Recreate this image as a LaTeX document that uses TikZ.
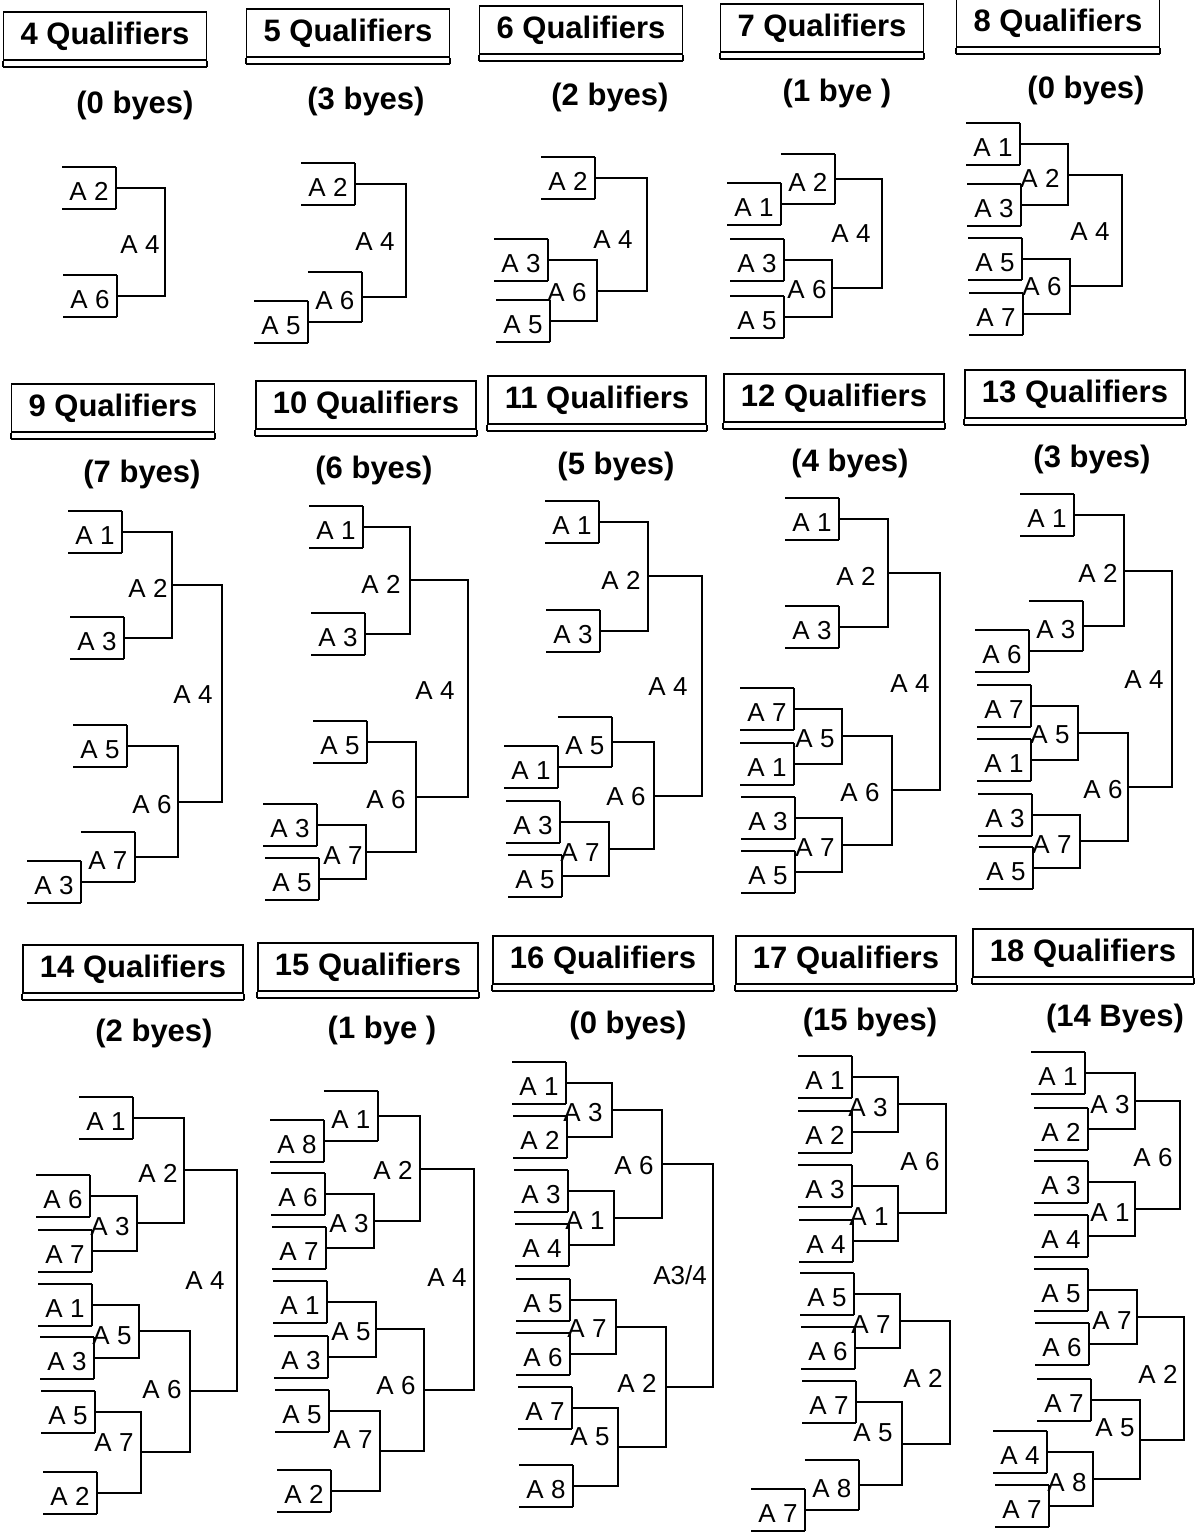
\documentclass[tikz,border=0pt]{standalone}
\usepackage{fontspec}
\setmainfont{Liberation Sans}
\usetikzlibrary{positioning,calc}
\newcommand{\lblfont}{\fontsize{26}{30}\selectfont}
\newcommand{\hdfont}{\fontsize{31}{35}\selectfont\bfseries}
\tikzset{
  slot/.style={minimum width=52pt,minimum height=40pt,inner sep=0pt,text height=25pt,text depth=0pt,font=\lblfont,
    append after command={(\tikzlastnode.north west) edge (\tikzlastnode.north east)
      (\tikzlastnode.north east) edge (\tikzlastnode.south east)
      (\tikzlastnode.south east) edge (\tikzlastnode.south west)}},
  byeslot/.style={slot,minimum height=48pt,anchor=south west},
  mlabel/.style={font=\lblfont,inner sep=0pt},
  qtitle/.style={draw,inner xsep=17pt,minimum height=48pt,font=\hdfont,
    append after command={(\tikzlastnode.south west) edge ([yshift=-6pt]\tikzlastnode.south west)
      ([yshift=-6pt]\tikzlastnode.south west) edge ([yshift=-6pt]\tikzlastnode.south east)
      ([yshift=-6pt]\tikzlastnode.south east) edge (\tikzlastnode.south east)}},
  byecount/.style={font=\hdfont,inner sep=0pt}
}
\begin{document}
\begin{tikzpicture}[x=1pt,y=-1pt,line width=1.8pt]
\useasboundingbox (0,0) rectangle (1200,1540);

% 4 Qualifiers
\node[qtitle] (q4t) at (105,36) {4 Qualifiers};
\node[byecount] (q4b) at (135,105) {(0 byes)};
\node[slot] (q4a2) at (89,188) {A 2};
\node[slot] (q4a6) at (90,296) {A 6};
\coordinate (q4m4) at (165,242);
\draw (q4a2.east) -| (q4m4) |- (q4a6.east);
\node[mlabel] (q4l4) at (140,245) {A 4};

% 5 Qualifiers
\node[qtitle] (q5t) at (348,33) {5 Qualifiers};
\node[byecount] (q5b) at (366,101) {(3 byes)};
\node[slot] (q5a2) at (328,184) {A 2};
\node[slot] (q5a5) at (281,322) {A 5};
\node[byeslot] (q5a6) at (q5a5.east) {A 6};
\coordinate (q5m4) at (406,241);
\draw (q5a2.east) -| (q5m4) |- (q5a6.east);
\node[mlabel] (q5l4) at (375,242) {A 4};

% 6 Qualifiers
\node[qtitle] (q6t) at (581,30) {6 Qualifiers};
\node[byecount] (q6b) at (610,97) {(2 byes)};
\node[slot] (q6a2) at (568,178) {A 2};
\node[slot] (q6a3) at (521,260) {A 3};
\node[slot] (q6a5) at (523,321) {A 5};
\coordinate (q6m6) at (597,291);
\coordinate (q6m4) at (647,234);
\draw (q6a3.east) -| (q6m6) |- (q6a5.east);
\draw (q6a2.east) -| (q6m4) |- (q6m6);
\node[mlabel] (q6l6) at (567,293) {A 6};
\node[mlabel] (q6l4) at (613,240) {A 4};

% 7 Qualifiers
\node[qtitle] (q7t) at (822,28) {7 Qualifiers};
\node[byecount] (q7b) at (837,93) {(1 bye )};
\node[slot] (q7a1) at (754,204) {A 1};
\node[byeslot] (q7a2) at (q7a1.east) {A 2};
\node[slot] (q7a3) at (757,260) {A 3};
\node[slot] (q7a5) at (757,317) {A 5};
\coordinate (q7m6) at (832,288);
\coordinate (q7m4) at (882,234);
\draw (q7a3.east) -| (q7m6) |- (q7a5.east);
\draw (q7a2.east) -| (q7m4) |- (q7m6);
\node[mlabel] (q7l6) at (807,290) {A 6};
\node[mlabel] (q7l4) at (851,234) {A 4};

% 8 Qualifiers
\node[qtitle] (q8t) at (1058,23) {8 Qualifiers};
\node[byecount] (q8b) at (1086,90) {(0 byes)};
\node[slot] (q8a1) at (993,144) {A 1};
\node[slot] (q8a3) at (994,205) {A 3};
\node[slot] (q8a5) at (995,259) {A 5};
\node[slot] (q8a7) at (996,314) {A 7};
\coordinate (q8m2) at (1068,175);
\coordinate (q8m6) at (1070,286);
\coordinate (q8m4) at (1122,231);
\draw (q8a1.east) -| (q8m2) |- (q8a3.east);
\draw (q8a5.east) -| (q8m6) |- (q8a7.east);
\draw (q8m2) -| (q8m4) |- (q8m6);
\node[mlabel] (q8l2) at (1040,178) {A 2};
\node[mlabel] (q8l6) at (1042,287) {A 6};
\node[mlabel] (q8l4) at (1090,232) {A 4};

% 9 Qualifiers
\node[qtitle] (q9t) at (113,408) {9 Qualifiers};
\node[byecount] (q9b) at (142,474) {(7 byes)};
\node[slot] (q9a1) at (95,532) {A 1};
\node[slot] (q9a3) at (97,638) {A 3};
\node[slot] (q9a5) at (100,746) {A 5};
\node[slot] (q9a3b) at (54,882) {A 3};
\node[byeslot] (q9a7) at (q9a3b.east) {A 7};
\coordinate (q9m2) at (172,585);
\coordinate (q9m6) at (178,802);
\coordinate (q9m4) at (222,693);
\draw (q9a1.east) -| (q9m2) |- (q9a3.east);
\draw (q9a5.east) -| (q9m6) |- (q9a7.east);
\draw (q9m2) -| (q9m4) |- (q9m6);
\node[mlabel] (q9l2) at (148,588) {A 2};
\node[mlabel] (q9l6) at (152,805) {A 6};
\node[mlabel] (q9l4) at (193,695) {A 4};

% 10 Qualifiers
\node[qtitle] (q10t) at (366,405) {10 Qualifiers};
\node[byecount] (q10b) at (374,470) {(6 byes)};
\node[slot] (q10a1) at (336,527) {A 1};
\node[slot] (q10a3) at (338,634) {A 3};
\node[slot] (q10a5) at (340,742) {A 5};
\node[slot] (q10a3b) at (290,825) {A 3};
\node[slot] (q10a5b) at (292,879) {A 5};
\coordinate (q10m7) at (366,852);
\coordinate (q10m2) at (410,580);
\coordinate (q10m6) at (416,797);
\coordinate (q10m4) at (468,688);
\draw (q10a3b.east) -| (q10m7) |- (q10a5b.east);
\draw (q10a1.east) -| (q10m2) |- (q10a3.east);
\draw (q10a5.east) -| (q10m6) |- (q10m7);
\draw (q10m2) -| (q10m4) |- (q10m6);
\node[mlabel] (q10l7) at (343,856) {A 7};
\node[mlabel] (q10l2) at (381,584) {A 2};
\node[mlabel] (q10l6) at (386,800) {A 6};
\node[mlabel] (q10l4) at (435,691) {A 4};

% 11 Qualifiers
\node[qtitle] (q11t) at (597,400) {11 Qualifiers};
\node[byecount] (q11b) at (616,466) {(5 byes)};
\node[slot] (q11a1) at (572,522) {A 1};
\node[slot] (q11a3) at (573,631) {A 3};
\node[slot] (q11a1b) at (531,767) {A 1};
\node[byeslot] (q11a5) at (q11a1b.east) {A 5};
\node[slot] (q11a3b) at (533,822) {A 3};
\node[slot] (q11a5b) at (535,876) {A 5};
\coordinate (q11m7) at (609,849);
\coordinate (q11m2) at (648,576);
\coordinate (q11m6) at (654,796);
\coordinate (q11m4) at (702,686);
\draw (q11a3b.east) -| (q11m7) |- (q11a5b.east);
\draw (q11a1.east) -| (q11m2) |- (q11a3.east);
\draw (q11a5.east) -| (q11m6) |- (q11m7);
\draw (q11m2) -| (q11m4) |- (q11m6);
\node[mlabel] (q11l7) at (580,853) {A 7};
\node[mlabel] (q11l2) at (621,580) {A 2};
\node[mlabel] (q11l6) at (626,797) {A 6};
\node[mlabel] (q11l4) at (668,687) {A 4};

% 12 Qualifiers
\node[qtitle] (q12t) at (834,398) {12 Qualifiers};
\node[byecount] (q12b) at (850,463) {(4 byes)};
\node[slot] (q12a1) at (812,519) {A 1};
\node[slot] (q12a3) at (812,627) {A 3};
\node[slot] (q12a7) at (767,709) {A 7};
\node[slot] (q12a1b) at (767,764) {A 1};
\node[slot] (q12a3b) at (768,818) {A 3};
\node[slot] (q12a5b) at (768,872) {A 5};
\coordinate (q12m5) at (842,736);
\coordinate (q12m7) at (842,845);
\coordinate (q12m2) at (888,573);
\coordinate (q12m6) at (892,790);
\coordinate (q12m4) at (940,681);
\draw (q12a7.east) -| (q12m5) |- (q12a1b.east);
\draw (q12a3b.east) -| (q12m7) |- (q12a5b.east);
\draw (q12a1.east) -| (q12m2) |- (q12a3.east);
\draw (q12m5) -| (q12m6) |- (q12m7);
\draw (q12m2) -| (q12m4) |- (q12m6);
\node[mlabel] (q12l5) at (815,739) {A 5};
\node[mlabel] (q12l7) at (815,848) {A 7};
\node[mlabel] (q12l2) at (856,576) {A 2};
\node[mlabel] (q12l6) at (860,793) {A 6};
\node[mlabel] (q12l4) at (910,684) {A 4};

% 13 Qualifiers
\node[qtitle] (q13t) at (1075,394) {13 Qualifiers};
\node[byecount] (q13b) at (1092,459) {(3 byes)};
\node[slot] (q13a1) at (1047,515) {A 1};
\node[slot] (q13a6b) at (1002,651) {A 6};
\node[byeslot] (q13a3) at (q13a6b.east) {A 3};
\node[slot] (q13a7) at (1004,706) {A 7};
\node[slot] (q13a1b) at (1004,760) {A 1};
\node[slot] (q13a3b) at (1005,815) {A 3};
\node[slot] (q13a5b) at (1006,868) {A 5};
\coordinate (q13m2) at (1124,571);
\coordinate (q13m5) at (1078,733);
\coordinate (q13m7) at (1080,841);
\coordinate (q13m6) at (1128,787);
\coordinate (q13m4) at (1172,679);
\draw (q13a1.east) -| (q13m2) |- (q13a3.east);
\draw (q13a7.east) -| (q13m5) |- (q13a1b.east);
\draw (q13a3b.east) -| (q13m7) |- (q13a5b.east);
\draw (q13m5) -| (q13m6) |- (q13m7);
\draw (q13m2) -| (q13m4) |- (q13m6);
\node[mlabel] (q13l2) at (1098,573) {A 2};
\node[mlabel] (q13l5) at (1050,735) {A 5};
\node[mlabel] (q13l7) at (1052,845) {A 7};
\node[mlabel] (q13l6) at (1103,790) {A 6};
\node[mlabel] (q13l4) at (1144,680) {A 4};

% 14 Qualifiers
\node[qtitle] (q14t) at (133,969) {14 Qualifiers};
\node[byecount] (q14b) at (154,1033) {(2 byes)};
\node[slot] (q14a1) at (106,1118) {A 1};
\node[slot] (q14a6) at (63,1196) {A 6};
\node[slot] (q14a7) at (65,1251) {A 7};
\node[slot] (q14a1b) at (65,1305) {A 1};
\node[slot] (q14a3b) at (67,1358) {A 3};
\node[slot] (q14a5b) at (68,1412) {A 5};
\node[slot] (q14a2b) at (70,1493) {A 2};
\coordinate (q14m3) at (137,1223);
\coordinate (q14m5) at (139,1331);
\coordinate (q14m7) at (141,1452);
\coordinate (q14m2) at (184,1170);
\coordinate (q14m6) at (190,1391);
\coordinate (q14m4) at (237,1280);
\draw (q14a6.east) -| (q14m3) |- (q14a7.east);
\draw (q14a1b.east) -| (q14m5) |- (q14a3b.east);
\draw (q14a5b.east) -| (q14m7) |- (q14a2b.east);
\draw (q14a1.east) -| (q14m2) |- (q14m3);
\draw (q14m5) -| (q14m6) |- (q14m7);
\draw (q14m2) -| (q14m4) |- (q14m6);
\node[mlabel] (q14l3) at (110,1227) {A 3};
\node[mlabel] (q14l5) at (112,1336) {A 5};
\node[mlabel] (q14l7) at (114,1443) {A 7};
\node[mlabel] (q14l2) at (158,1173) {A 2};
\node[mlabel] (q14l6) at (162,1390) {A 6};
\node[mlabel] (q14l4) at (205,1281) {A 4};

% 15 Qualifiers
\node[qtitle] (q15t) at (368,967) {15 Qualifiers};
\node[byecount] (q15b) at (382,1030) {(1 bye )};
\node[slot] (q15a8) at (297,1141) {A 8};
\node[byeslot] (q15a1) at (q15a8.east) {A 1};
\node[slot] (q15a6) at (298,1194) {A 6};
\node[slot] (q15a7) at (299,1248) {A 7};
\node[slot] (q15a1b) at (300,1302) {A 1};
\node[slot] (q15a3b) at (301,1357) {A 3};
\node[slot] (q15a5b) at (302,1411) {A 5};
\node[slot] (q15a2b) at (304,1491) {A 2};
\coordinate (q15m3) at (374,1221);
\coordinate (q15m5) at (376,1329);
\coordinate (q15m7) at (380,1451);
\coordinate (q15m2) at (420,1169);
\coordinate (q15m6) at (424,1390);
\coordinate (q15m4) at (474,1280);
\draw (q15a6.east) -| (q15m3) |- (q15a7.east);
\draw (q15a1b.east) -| (q15m5) |- (q15a3b.east);
\draw (q15a5b.east) -| (q15m7) |- (q15a2b.east);
\draw (q15a1.east) -| (q15m2) |- (q15m3);
\draw (q15m5) -| (q15m6) |- (q15m7);
\draw (q15m2) -| (q15m4) |- (q15m6);
\node[mlabel] (q15l3) at (349,1224) {A 3};
\node[mlabel] (q15l5) at (351,1332) {A 5};
\node[mlabel] (q15l7) at (353,1440) {A 7};
\node[mlabel] (q15l2) at (393,1170) {A 2};
\node[mlabel] (q15l6) at (396,1386) {A 6};
\node[mlabel] (q15l4) at (447,1278) {A 4};

% 16 Qualifiers
\node[qtitle] (q16t) at (603,960) {16 Qualifiers};
\node[byecount] (q16b) at (628,1025) {(0 byes)};
\node[slot] (q16a1) at (539,1083) {A 1};
\node[slot] (q16a2) at (540,1137) {A 2};
\node[slot] (q16a3) at (541,1191) {A 3};
\node[slot] (q16a4) at (542,1245) {A 4};
\node[slot] (q16a5) at (543,1300) {A 5};
\node[slot] (q16a6) at (543,1354) {A 6};
\node[slot] (q16a7) at (545,1408) {A 7};
\node[slot] (q16a8) at (546,1486) {A 8};
\coordinate (q16m3) at (612,1110);
\coordinate (q16m1) at (614,1218);
\coordinate (q16m7) at (616,1327);
\coordinate (q16m5) at (618,1447);
\coordinate (q16m6) at (662,1164);
\coordinate (q16m2) at (666,1387);
\coordinate (q16m34) at (713,1275);
\draw (q16a1.east) -| (q16m3) |- (q16a2.east);
\draw (q16a3.east) -| (q16m1) |- (q16a4.east);
\draw (q16a5.east) -| (q16m7) |- (q16a6.east);
\draw (q16a7.east) -| (q16m5) |- (q16a8.east);
\draw (q16m3) -| (q16m6) |- (q16m1);
\draw (q16m7) -| (q16m2) |- (q16m5);
\draw (q16m6) -| (q16m34) |- (q16m2);
\node[mlabel] (q16l3) at (583,1113) {A 3};
\node[mlabel] (q16l1) at (585,1221) {A 1};
\node[mlabel] (q16l7) at (587,1329) {A 7};
\node[mlabel] (q16l5) at (590,1437) {A 5};
\node[mlabel] (q16l6) at (634,1166) {A 6};
\node[mlabel] (q16l2) at (637,1383) {A 2};
\node[mlabel] (q16l34) at (680,1275) {A3/4};

% 17 Qualifiers
\node[qtitle] (q17t) at (846,960) {17 Qualifiers};
\node[byecount] (q17b) at (870,1022) {(15 byes)};
\node[slot] (q17a1) at (825,1077) {A 1};
\node[slot] (q17a2) at (825,1132) {A 2};
\node[slot] (q17a3) at (825,1186) {A 3};
\node[slot] (q17a4) at (826,1241) {A 4};
\node[slot] (q17a5) at (827,1294) {A 5};
\node[slot] (q17a6) at (828,1348) {A 6};
\node[slot] (q17a7) at (829,1402) {A 7};
\node[slot] (q17a7c) at (778,1510) {A 7};
\node[byeslot] (q17a8) at (q17a7c.east) {A 8};
\coordinate (q17m3) at (898,1104);
\coordinate (q17m1) at (898,1213);
\coordinate (q17m7) at (900,1321);
\coordinate (q17m5) at (902,1444);
\coordinate (q17m6) at (946,1158);
\coordinate (q17m2) at (950,1382);
\draw (q17a1.east) -| (q17m3) |- (q17a2.east);
\draw (q17a3.east) -| (q17m1) |- (q17a4.east);
\draw (q17a5.east) -| (q17m7) |- (q17a6.east);
\draw (q17a7.east) -| (q17m5) |- (q17a8.east);
\draw (q17m3) -| (q17m6) |- (q17m1);
\draw (q17m7) -| (q17m2) |- (q17m5);
\node[mlabel] (q17l3) at (868,1108) {A 3};
\node[mlabel] (q17l1) at (869,1217) {A 1};
\node[mlabel] (q17l7) at (871,1325) {A 7};
\node[mlabel] (q17l5) at (873,1433) {A 5};
\node[mlabel] (q17l6) at (920,1162) {A 6};
\node[mlabel] (q17l2) at (923,1378) {A 2};

% 18 Qualifiers
\node[qtitle] (q18t) at (1083,953) {18 Qualifiers};
\node[byecount] (q18b) at (1115,1018) {(14 Byes)};
\node[slot] (q18a1) at (1058,1073) {A 1};
\node[slot] (q18a2) at (1061,1129) {A 2};
\node[slot] (q18a3) at (1061,1182) {A 3};
\node[slot] (q18a4) at (1061,1236) {A 4};
\node[slot] (q18a5) at (1061,1290) {A 5};
\node[slot] (q18a6) at (1062,1344) {A 6};
\node[slot] (q18a7) at (1064,1400) {A 7};
\node[slot] (q18a4b) at (1020,1452) {A 4};
\node[slot] (q18a7c) at (1022,1506) {A 7};
\coordinate (q18m3) at (1135,1101);
\coordinate (q18m1) at (1135,1209);
\coordinate (q18m7) at (1137,1317);
\coordinate (q18m8) at (1093,1479);
\coordinate (q18m5) at (1140,1440);
\coordinate (q18m6) at (1180,1155);
\coordinate (q18m2) at (1184,1378);
\draw (q18a1.east) -| (q18m3) |- (q18a2.east);
\draw (q18a3.east) -| (q18m1) |- (q18a4.east);
\draw (q18a5.east) -| (q18m7) |- (q18a6.east);
\draw (q18a4b.east) -| (q18m8) |- (q18a7c.east);
\draw (q18a7.east) -| (q18m5) |- (q18m8);
\draw (q18m3) -| (q18m6) |- (q18m1);
\draw (q18m7) -| (q18m2) |- (q18m5);
\node[mlabel] (q18l3) at (1110,1105) {A 3};
\node[mlabel] (q18l1) at (1110,1213) {A 1};
\node[mlabel] (q18l7) at (1112,1321) {A 7};
\node[mlabel] (q18l8) at (1067,1483) {A 8};
\node[mlabel] (q18l5) at (1115,1428) {A 5};
\node[mlabel] (q18l6) at (1153,1158) {A 6};
\node[mlabel] (q18l2) at (1158,1374) {A 2};
\end{tikzpicture}
\end{document}
